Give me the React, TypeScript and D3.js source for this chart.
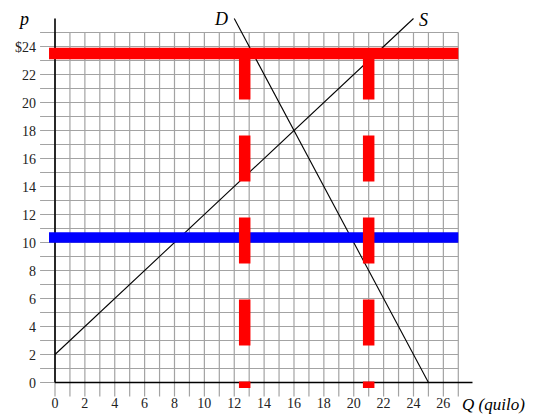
import * as d3 from "d3";

// market curves (Q, p)
const demandPts = [
  { q: 12, p: 26 },
  { q: 25, p: 0 },
];
const supplyPts = [
  { q: 0, p: 2 },
  { q: 24, p: 26 },
];
// price bands
const redPrice = 23.5;
const bluePrice = 10.35;
// dashed quantity markers
const markerQs = [12.7, 21];

const xTicks = d3.range(0, 27, 2);
const yTicks = d3.range(0, 25, 2);
const gridQs = d3.range(0, 28);
const gridPs = d3.range(0, 26);

const W = 535,
  H = 417;

export default function App() {
  const x = d3.scaleLinear().domain([0, 27]).range([55, 458.3]);
  const y = d3.scaleLinear().domain([0, 25]).range([382.5, 32.5]);
  const line = d3
    .line<{ q: number; p: number }>()
    .x((d) => x(d.q))
    .y((d) => y(d.p));

  const serif = "'Liberation Serif', 'Times New Roman', serif";

  return (
    <svg
      width={W}
      height={H}
      style={{ position: "absolute", left: 0, top: 0, background: "#fff" }}
      fontFamily={serif}
    >
      {/* grid */}
      <g stroke="#a3a3a3" strokeWidth={1.2}>
        {gridQs.map((q) => (
          <line key={"v" + q} x1={x(q)} x2={x(q)} y1={y(-1)} y2={y(25)} />
        ))}
        {gridPs.map((p) => (
          <line key={"h" + p} x1={x(-1)} x2={x(27)} y1={y(p)} y2={y(p)} />
        ))}
      </g>

      {/* axes */}
      <g stroke="#000" strokeWidth={1.6}>
        <line x1={x(0)} x2={x(0)} y1={y(0)} y2={y(26)} />
        <line x1={x(0)} x2={x(27.95)} y1={y(0)} y2={y(0)} />
      </g>

      {/* tick labels */}
      <g fontSize={14} fill="#222">
        {yTicks.map((p) => (
          <text key={p} x={36} y={y(p) + 5} textAnchor="end">
            {p === 24 ? "$24" : p}
          </text>
        ))}
        {xTicks.map((q) => (
          <text key={q} x={x(q)} y={408} textAnchor="middle">
            {q}
          </text>
        ))}
      </g>

      {/* curves */}
      <g fill="none" stroke="#000" strokeWidth={1.1}>
        <path d={line(demandPts) ?? ""} />
        <path d={line(supplyPts) ?? ""} />
      </g>

      {/* bands */}
      <line
        x1={x(-0.4)}
        x2={x(27)}
        y1={y(bluePrice)}
        y2={y(bluePrice)}
        stroke="#0000ff"
        strokeWidth={10.5}
      />
      <line
        x1={x(-0.4)}
        x2={x(27)}
        y1={y(redPrice)}
        y2={y(redPrice)}
        stroke="#ff0000"
        strokeWidth={11.5}
      />
      {markerQs.map((q) => (
        <line
          key={q}
          x1={x(q)}
          x2={x(q)}
          y1={y(redPrice)}
          y2={y(-0.4)}
          stroke="#ff0000"
          strokeWidth={11.5}
          strokeDasharray="46 36"
        />
      ))}

      {/* labels */}
      <g fontStyle="italic" fill="#000" fontSize={18}>
        <text x={20} y={25}>p</text>
        <text x={215} y={25}>D</text>
        <text x={419} y={26}>S</text>
        <text x={462} y={410} fontSize={17}>
          Q (quilo)
        </text>
      </g>
    </svg>
  );
}
